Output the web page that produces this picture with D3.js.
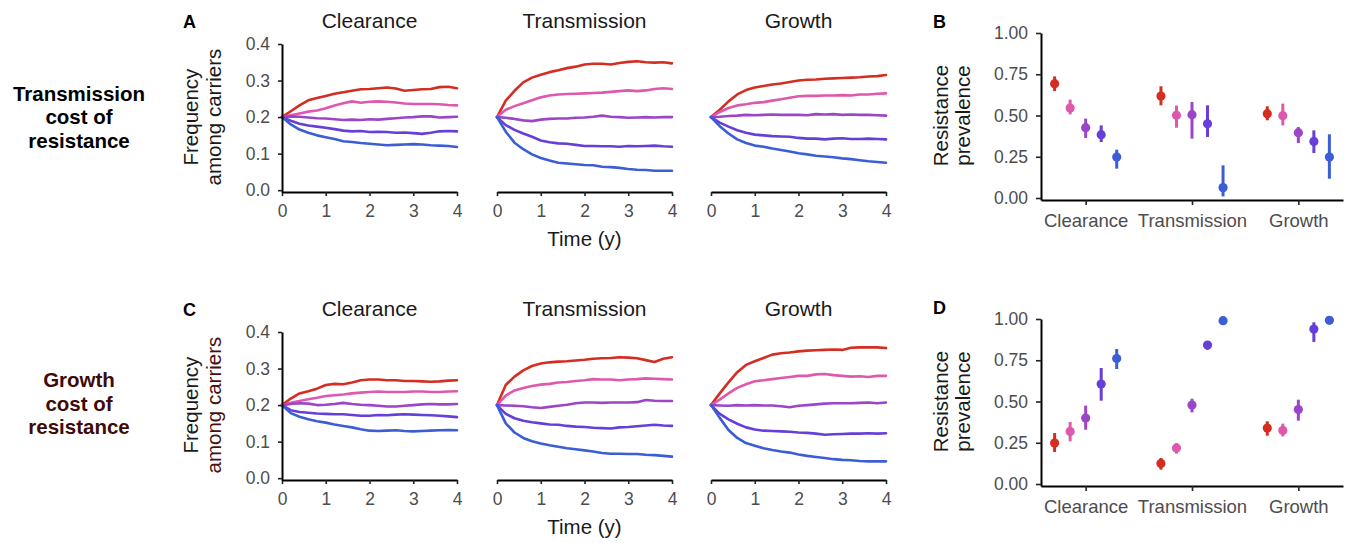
<!DOCTYPE html>
<html>
<head>
<meta charset="utf-8">
<script src="https://cdn.jsdelivr.net/npm/d3@7"></script>
<style>
  body { margin: 0; background: #fff; }
  svg { display: block; }
  text { font-family: "Liberation Sans", Arial, Helvetica, sans-serif; }
</style>
</head>
<body>
<svg id="fig" width="1349" height="543"></svg>
<script>
// ---- Data ---------------------------------------------------------------
const timeYears = [0,0.2,0.4,0.6,0.8,1.0,1.2,1.4,1.6,1.8,2.0,2.2,2.4,2.6,2.8,3.0,3.2,3.4,3.6,3.8,4.0];
const mechanisms = ["Clearance", "Transmission", "Growth"];
const rowLabels = [["Transmission", "cost of", "resistance"], ["Growth", "cost of", "resistance"]];
const panelLetters = ["A", "B", "C", "D"];
const freqTicks = [0, 0.1, 0.2, 0.3, 0.4];
const timeTicks = [0, 1, 2, 3, 4];
const prevTicks = [0, 0.25, 0.5, 0.75, 1];
const seriesColors = ["#d42d22", "#de58ad", "#9b46c8", "#663fd8", "#3b5dd6"];

// Frequency among carriers over time, transmission cost of resistance (five series per mechanism)
const freqTransClearance = [
  [0.2,0.216,0.232,0.246,0.252,0.258,0.264,0.268,0.272,0.276,0.277,0.279,0.281,0.278,0.272,0.274,0.276,0.277,0.282,0.283,0.279],
  [0.2,0.205,0.21,0.215,0.218,0.224,0.232,0.238,0.243,0.239,0.242,0.243,0.242,0.24,0.237,0.236,0.236,0.236,0.235,0.233,0.232],
  [0.2,0.202,0.201,0.199,0.197,0.196,0.194,0.192,0.193,0.192,0.194,0.193,0.195,0.197,0.199,0.2,0.202,0.202,0.199,0.2,0.201],
  [0.2,0.19,0.182,0.177,0.174,0.171,0.167,0.163,0.161,0.162,0.159,0.16,0.159,0.157,0.158,0.156,0.154,0.157,0.161,0.162,0.161],
  [0.2,0.18,0.166,0.157,0.15,0.145,0.14,0.134,0.132,0.129,0.127,0.125,0.123,0.124,0.125,0.126,0.125,0.123,0.122,0.121,0.118]
];
const freqTransTransmission = [
  [0.2,0.245,0.272,0.295,0.308,0.316,0.323,0.328,0.334,0.338,0.344,0.346,0.346,0.344,0.348,0.351,0.353,0.35,0.349,0.35,0.347],
  [0.2,0.22,0.23,0.238,0.246,0.254,0.259,0.262,0.263,0.264,0.265,0.266,0.267,0.269,0.271,0.273,0.271,0.273,0.277,0.279,0.277],
  [0.2,0.198,0.195,0.191,0.189,0.193,0.195,0.196,0.196,0.198,0.199,0.201,0.204,0.201,0.2,0.198,0.199,0.2,0.199,0.2,0.2],
  [0.2,0.178,0.165,0.155,0.146,0.136,0.131,0.128,0.127,0.124,0.121,0.121,0.12,0.12,0.119,0.121,0.12,0.121,0.122,0.12,0.119],
  [0.2,0.16,0.13,0.112,0.098,0.088,0.081,0.075,0.073,0.071,0.069,0.068,0.064,0.063,0.061,0.058,0.056,0.055,0.053,0.053,0.053]
];
const freqTransGrowth = [
  [0.2,0.22,0.243,0.262,0.274,0.281,0.285,0.289,0.292,0.296,0.3,0.302,0.303,0.305,0.306,0.307,0.308,0.309,0.311,0.312,0.315],
  [0.2,0.214,0.225,0.232,0.235,0.239,0.241,0.245,0.249,0.253,0.257,0.258,0.258,0.259,0.259,0.26,0.259,0.262,0.262,0.264,0.265],
  [0.2,0.201,0.203,0.204,0.206,0.205,0.206,0.207,0.206,0.206,0.206,0.205,0.208,0.207,0.208,0.206,0.207,0.206,0.206,0.205,0.204],
  [0.2,0.185,0.174,0.164,0.157,0.152,0.15,0.148,0.147,0.146,0.143,0.141,0.141,0.139,0.141,0.142,0.14,0.14,0.141,0.14,0.139],
  [0.2,0.175,0.155,0.139,0.129,0.122,0.119,0.114,0.11,0.106,0.101,0.098,0.094,0.092,0.09,0.087,0.085,0.082,0.079,0.077,0.075]
];

// Frequency among carriers over time, growth cost of resistance
const freqGrowthClearance = [
  [0.2,0.218,0.232,0.238,0.245,0.255,0.258,0.257,0.262,0.268,0.27,0.27,0.268,0.268,0.266,0.266,0.265,0.264,0.265,0.267,0.268],
  [0.2,0.206,0.211,0.216,0.22,0.225,0.227,0.229,0.232,0.234,0.236,0.237,0.236,0.236,0.236,0.237,0.237,0.236,0.236,0.237,0.238],
  [0.2,0.203,0.205,0.204,0.2,0.201,0.203,0.206,0.203,0.201,0.2,0.198,0.196,0.196,0.198,0.2,0.202,0.203,0.202,0.202,0.203],
  [0.2,0.186,0.181,0.179,0.177,0.176,0.175,0.175,0.173,0.171,0.171,0.173,0.172,0.174,0.175,0.174,0.173,0.172,0.171,0.169,0.167],
  [0.2,0.178,0.168,0.161,0.156,0.152,0.147,0.143,0.139,0.134,0.13,0.129,0.13,0.131,0.129,0.128,0.129,0.13,0.131,0.132,0.131]
];
const freqGrowthTransmission = [
  [0.2,0.255,0.278,0.295,0.307,0.314,0.317,0.319,0.32,0.322,0.324,0.327,0.328,0.329,0.331,0.33,0.328,0.323,0.318,0.327,0.331],
  [0.2,0.226,0.24,0.247,0.252,0.256,0.258,0.262,0.263,0.266,0.268,0.271,0.27,0.27,0.268,0.27,0.271,0.273,0.272,0.271,0.27],
  [0.2,0.199,0.198,0.197,0.194,0.192,0.195,0.198,0.201,0.205,0.207,0.207,0.206,0.207,0.207,0.207,0.208,0.214,0.212,0.211,0.211],
  [0.2,0.176,0.164,0.157,0.153,0.15,0.147,0.146,0.143,0.141,0.14,0.138,0.137,0.136,0.139,0.14,0.142,0.144,0.146,0.144,0.143],
  [0.2,0.15,0.125,0.11,0.101,0.095,0.09,0.086,0.082,0.079,0.076,0.073,0.069,0.067,0.067,0.066,0.066,0.064,0.063,0.061,0.059]
];
const freqGrowthGrowth = [
  [0.2,0.232,0.262,0.29,0.31,0.32,0.329,0.338,0.342,0.344,0.347,0.349,0.35,0.351,0.352,0.351,0.357,0.358,0.358,0.358,0.356],
  [0.2,0.215,0.232,0.247,0.257,0.265,0.268,0.271,0.274,0.277,0.28,0.28,0.284,0.285,0.282,0.28,0.278,0.279,0.277,0.28,0.28],
  [0.2,0.199,0.198,0.2,0.199,0.2,0.199,0.199,0.197,0.194,0.198,0.2,0.202,0.204,0.205,0.205,0.205,0.206,0.207,0.205,0.207],
  [0.2,0.176,0.161,0.149,0.139,0.133,0.13,0.129,0.128,0.127,0.125,0.124,0.122,0.119,0.12,0.121,0.122,0.122,0.123,0.122,0.123],
  [0.2,0.165,0.132,0.11,0.096,0.089,0.082,0.077,0.073,0.07,0.065,0.061,0.058,0.055,0.052,0.05,0.049,0.047,0.046,0.046,0.046]
];

// Resistance prevalence: estimate with interval, one row per mechanism, five series each
const prevTransEst = [[0.693,0.545,0.426,0.384,0.248],[0.618,0.501,0.505,0.45,0.063],[0.511,0.499,0.396,0.343,0.248]];
const prevTransLo  = [[0.648,0.507,0.364,0.339,0.178],[0.562,0.426,0.36,0.37,0.01],[0.471,0.44,0.333,0.273,0.117]];
const prevTransHi  = [[0.737,0.596,0.481,0.44,0.293],[0.677,0.56,0.582,0.562,0.198],[0.556,0.572,0.43,0.41,0.386]];
const prevGrowthEst = [[0.248,0.319,0.4,0.606,0.76],[0.125,0.218,0.479,0.842,0.99],[0.339,0.325,0.451,0.939,0.992]];
const prevGrowthLo  = [[0.194,0.259,0.329,0.505,0.697],[0.087,0.184,0.434,0.814,0.98],[0.293,0.289,0.384,0.861,0.984]];
const prevGrowthHi  = [[0.309,0.376,0.475,0.703,0.818],[0.158,0.248,0.517,0.865,1.0],[0.38,0.366,0.511,0.98,1.0]];

// ---- Layout -------------------------------------------------------------
const svg = d3.select("#fig");
const TICK_FONT = "17.5px";
const TITLE_FONT = "20.5px";
const TICK_COL = "#4d4d4d";
const TEXT_COL = "#1a1a1a";
const MAROON = "#3d0b0b";

const timePanelX = [282, 497, 711];
const timePanelW = 175;

const rows = [
  { dy: 0,   prevDy: 0,   freq: [freqTransClearance, freqTransTransmission, freqTransGrowth],
    est: prevTransEst, lo: prevTransLo, hi: prevTransHi, labelCol: "#000", ySubCol: TEXT_COL },
  { dy: 288, prevDy: 286, freq: [freqGrowthClearance, freqGrowthTransmission, freqGrowthGrowth],
    est: prevGrowthEst, lo: prevGrowthLo, hi: prevGrowthHi, labelCol: MAROON, ySubCol: "#4a1010" }
];

function styleAxis(g) {
  g.select(".domain").attr("stroke", "#000").attr("stroke-width", 2);
  g.selectAll(".tick line").attr("stroke", "#222").attr("stroke-width", 1.6);
  g.selectAll(".tick text").attr("fill", TICK_COL).style("font-size", TICK_FONT).attr("font-family", null);
}

rows.forEach((row, r) => {
  const dy = row.dy;

  // Row label on the far left
  const rl = svg.append("text").attr("text-anchor", "middle")
    .attr("fill", row.labelCol).style("font-size", "20.5px").style("font-weight", "bold");
  rowLabels[r].forEach((line, i) => {
    rl.append("tspan").attr("x", 79).attr("y", (r === 0 ? 100.5 : 387) + i * 23.5).text(line);
  });

  // Panel letters
  svg.append("text").attr("x", 183).attr("y", 28 + dy).style("font-size", "18px")
    .style("font-weight", "bold").text(panelLetters[r * 2]);
  svg.append("text").attr("x", 933).attr("y", 28 + row.prevDy).style("font-size", "18px")
    .style("font-weight", "bold").text(panelLetters[r * 2 + 1]);

  // Time-course panels
  const y = d3.scaleLinear([-0.005, 0.4], [192 + dy, 44 + dy]);
  mechanisms.forEach((mech, m) => {
    const x = d3.scaleLinear([0, 4], [timePanelX[m], timePanelX[m] + timePanelW]);

    svg.append("text").attr("x", (x.range()[0] + x.range()[1]) / 2).attr("y", 28 + dy)
      .attr("text-anchor", "middle").attr("fill", TEXT_COL).style("font-size", "21px").text(mech);

    const line = d3.line().x((d, i) => x(timeYears[i])).y(d => y(d));
    svg.append("g").selectAll("path").data(row.freq[m]).join("path")
      .attr("d", line).attr("fill", "none")
      .attr("stroke", (d, i) => seriesColors[i]).attr("stroke-width", 2.6)
      .attr("stroke-linejoin", "round").attr("stroke-linecap", "round");

    svg.append("g").attr("transform", `translate(0,${y(-0.005)})`)
      .call(d3.axisBottom(x).tickValues(timeTicks).tickFormat(d3.format("d"))
        .tickSize(4).tickSizeOuter(0).tickPadding(9))
      .call(styleAxis);

    if (m === 0) {
      svg.append("g").attr("transform", `translate(${x(0)},0)`)
        .call(d3.axisLeft(y).tickValues(freqTicks).tickFormat(d3.format(".1f"))
          .tickSize(4).tickSizeOuter(0).tickPadding(8))
        .call(styleAxis);
      const cy = (y(0) + y(0.4)) / 2;
      svg.append("text").attr("transform", `translate(198,${cy}) rotate(-90)`)
        .attr("text-anchor", "middle").attr("fill", TEXT_COL).style("font-size", TITLE_FONT).text("Frequency");
      svg.append("text").attr("transform", `translate(221,${cy}) rotate(-90)`)
        .attr("text-anchor", "middle").attr("fill", row.ySubCol).style("font-size", TITLE_FONT).text("among carriers");
    }
    if (m === 1) {
      svg.append("text").attr("x", (x.range()[0] + x.range()[1]) / 2).attr("y", 246 + dy)
        .attr("text-anchor", "middle").attr("fill", TEXT_COL).style("font-size", TITLE_FONT).text("Time (y)");
    }
  });

  // Prevalence panel
  const pd = row.prevDy;
  const py = d3.scaleLinear([-0.012, 1], [200 + pd, 33 + pd]);
  const px = d3.scaleLinear([0.58, 3.42], [1041, 1343]);
  const dodge = 0.146;

  svg.append("g").attr("transform", `translate(0,${py(-0.012)})`)
    .call(d3.axisBottom(px).tickValues([1, 2, 3]).tickFormat((d, i) => mechanisms[i])
      .tickSize(5).tickSizeOuter(0).tickPadding(9))
    .call(styleAxis)
    .call(g => g.selectAll(".tick text").style("font-size", "18.5px"));
  svg.append("g").attr("transform", `translate(${px(0.58)},0)`)
    .call(d3.axisLeft(py).tickValues(prevTicks).tickFormat(d3.format(".2f"))
      .tickSize(5).tickSizeOuter(0).tickPadding(8))
    .call(styleAxis);

  const pcy = (py(0) + py(1)) / 2;
  svg.append("text").attr("transform", `translate(948,${pcy}) rotate(-90)`)
    .attr("text-anchor", "middle").attr("fill", TEXT_COL).style("font-size", TITLE_FONT).text("Resistance");
  svg.append("text").attr("transform", `translate(970,${pcy}) rotate(-90)`)
    .attr("text-anchor", "middle").attr("fill", TEXT_COL).style("font-size", TITLE_FONT).text("prevalence");

  const pts = [];
  mechanisms.forEach((mech, m) => {
    row.est[m].forEach((v, s) => {
      pts.push({ xv: m + 1 + (s - 2) * dodge, est: v, lo: row.lo[m][s], hi: row.hi[m][s], col: seriesColors[s] });
    });
  });
  const pg = svg.append("g");
  pg.selectAll("line").data(pts).join("line")
    .attr("x1", d => px(d.xv)).attr("x2", d => px(d.xv))
    .attr("y1", d => py(d.lo)).attr("y2", d => py(d.hi))
    .attr("stroke", d => d.col).attr("stroke-width", 3);
  pg.selectAll("circle").data(pts).join("circle")
    .attr("cx", d => px(d.xv)).attr("cy", d => py(d.est)).attr("r", 4.6)
    .attr("fill", d => d.col);
});
</script>
</body>
</html>
